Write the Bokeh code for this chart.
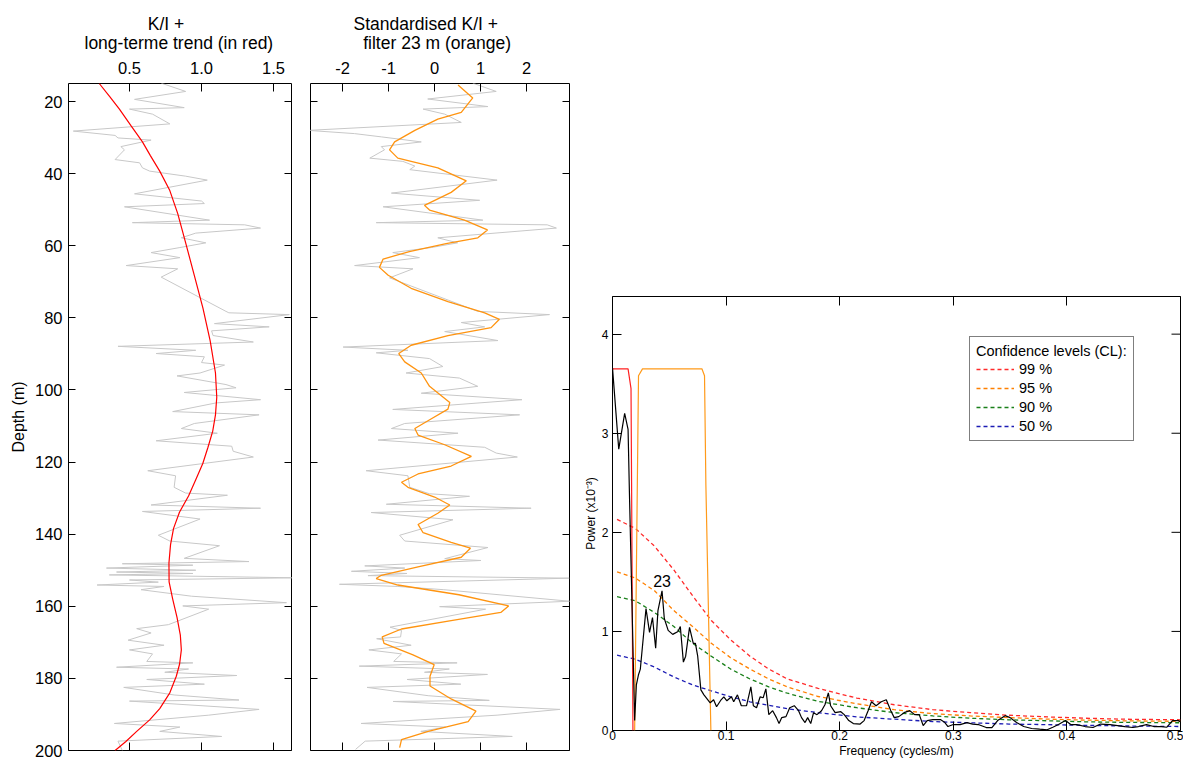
import math
from bokeh.plotting import figure
from bokeh.models import Range1d, LinearAxis, FixedTicker, Title, Label, PrintfTickFormatter
from bokeh.layouts import row
from bokeh.embed import file_html
from bokeh.resources import INLINE

FONT = "Liberation Sans"

# ---------------- Panel 1: K/I (grey) + long-term trend (red) ----------------
ki_depth = [14.9, 17.2, 19.4, 21.7, 22.1, 23.5, 26.2, 28.2, 29.4, 30.1,
            30.7, 32.5, 33.4, 36.1, 37.0, 38.4, 39.3, 40.7, 41.8, 45.6,
            47.6, 48.3, 49.2, 52.9, 53.6, 54.2, 55.1, 56.5, 57.8, 59.2,
            60.5, 61.9, 63.3, 65.5, 66.4, 68.7, 78.2, 78.6, 79.1, 81.6,
            82.5, 83.6, 84.9, 86.7, 87.9, 89.0, 89.9, 90.8, 92.4, 93.1,
            95.3, 96.1, 98.5, 99.4, 100.7, 102.7, 103.6, 106.0, 106.9, 109.3,
            110.7, 112.0, 114.1, 115.6, 117.0, 118.6, 122.4, 123.8, 127.0, 128.6,
            129.2, 131.9, 132.8, 133.7, 135.8, 140.3, 141.9, 143.2, 146.7, 147.6,
            148.2, 148.6, 149.4, 150.0, 150.5, 150.9, 151.3, 152.1, 152.7, 153.3,
            154.1, 154.5, 155.4, 157.2, 159.0, 159.9, 160.8, 165.1, 166.2, 167.4,
            169.4, 170.8, 172.1, 173.2, 175.3, 175.7, 176.9, 177.4, 178.3, 179.2,
            180.3, 181.6, 182.5, 184.6, 186.0, 186.3, 188.6, 190.2, 192.5, 193.5,
            194.7, 196.1, 197.4, 200.0]
ki_value = [0.72, 0.89, 0.535, 0.88, 0.50, 0.66, 0.78, 0.11, 0.40, 0.42,
            0.65, 0.44, 0.465, 0.40, 0.57, 0.59, 0.64, 0.89, 1.04, 0.535,
            1.0, 1.02, 0.465, 1.056, 0.52, 1.30, 1.41, 0.96, 0.86, 1.03,
            0.85, 0.65, 0.85, 0.477, 0.835, 0.72, 1.17, 1.19, 1.61, 1.09,
            1.47, 1.07, 1.08, 1.36, 0.42, 0.96, 0.685, 1.02, 1.00, 1.16,
            0.99, 0.83, 1.17, 1.24, 0.88, 1.41, 1.10, 0.80, 1.40, 0.95,
            0.86, 1.11, 0.685, 1.21, 1.22, 1.36, 0.627, 0.82, 0.81, 0.89,
            1.18, 0.65, 1.41, 0.59, 0.99, 0.70, 0.78, 1.125, 0.88, 1.33,
            0.45, 0.94, 0.34, 0.96, 0.41, 0.94, 0.36, 1.65, 0.50, 0.70,
            0.275, 0.74, 0.58, 0.93, 1.59, 0.87, 1.05, 0.77, 0.55, 0.65,
            0.49, 0.74, 0.50, 0.66, 0.62, 0.94, 0.41, 0.91, 0.745, 1.245,
            0.62, 1.02, 0.46, 0.81, 1.26, 0.50, 1.40, 1.05, 0.395, 0.85,
            0.71, 1.14, 0.42, 0.45]

trend_depth = [15.0, 18.5, 22.1, 26.7, 31.2, 35.0, 39.3, 44.7, 51.1, 59.2,
               68.2, 77.3, 86.3, 95.3, 102.0, 106.9, 111.4, 115.9, 120.4, 124.9,
               129.4, 133.9, 138.4, 142.9, 148.0, 153.2, 158.0, 163.1, 168.0, 172.1,
               176.0, 179.4, 184.0, 188.4, 191.5, 194.7, 197.5, 200.0]
trend_value = [0.29, 0.36, 0.43, 0.51, 0.59, 0.645, 0.71, 0.78, 0.835, 0.89,
               0.95, 1.01, 1.06, 1.097, 1.106, 1.097, 1.078, 1.045, 1.009, 0.96,
               0.91, 0.847, 0.806, 0.785, 0.774, 0.775, 0.80, 0.83, 0.853, 0.86,
               0.848, 0.825, 0.78, 0.71, 0.64, 0.55, 0.475, 0.40]

ki_ticks = [0.5, 1.0, 1.5]
depth_ticks = [20, 40, 60, 80, 100, 120, 140, 160, 180, 200]

# ---------------- Panel 2: standardised K/I (grey) + 23 m filter (orange) ----------------
std_depth = [14.9, 17.2, 19.3, 21.4, 22.1, 23.5, 25.8, 28.0, 28.9, 29.8,
             31.2, 32.5, 33.4, 35.7, 36.6, 37.9, 38.9, 41.8, 45.4, 47.4,
             49.2, 52.9, 53.6, 54.2, 55.1, 57.8, 59.2, 60.5, 61.9, 63.3,
             65.5, 66.4, 68.9, 78.2, 79.1, 81.3, 82.5, 83.8, 86.3, 88.1,
             89.0, 89.7, 91.3, 93.5, 95.3, 96.7, 99.0, 100.9, 102.7, 105.4,
             106.9, 109.3, 110.7, 112.0, 113.9, 115.9, 117.5, 118.6, 122.4, 123.8,
             127.0, 128.8, 129.5, 131.7, 132.8, 134.0, 136.0, 140.3, 141.9, 143.7,
             146.8, 147.3, 148.8, 149.4, 150.3, 150.9, 151.5, 152.2, 153.9, 154.5,
             155.4, 158.6, 160.1, 160.8, 165.8, 166.7, 168.5, 169.0, 170.8, 172.1,
             173.2, 175.3, 175.7, 176.6, 177.4, 178.3, 178.9, 180.3, 181.6, 182.5,
             184.8, 186.1, 186.4, 188.6, 190.2, 192.5, 193.5, 194.7, 196.1, 197.4,
             199.7]
std_value = [0.83, 1.34, -0.15, 1.16, -0.25, 0.22, 0.58, -2.75, -1.74, -1.16,
             -0.29, -1.16, -1.09, -1.41, -0.69, -0.43, -0.54, 1.36, -0.94, 0.98,
             -1.12, 1.05, -1.27, 2.45, 2.65, 0.07, 0.5, -0.07, -0.91, -0.33,
             -1.74, -0.47, -0.98, 0.94, 2.5, 0.58, 1.09, 0.22, 1.38, -1.99,
             -0.58, -1.27, -0.11, 0.18, -0.62, 0.54, 0.94, -0.29, 1.9, -0.91,
             1.85, -0.65, -0.94, 0.51, -1.23, 1.09, 1.34, 1.8, -1.49, -0.58,
             -0.54, -0.11, 0.76, -1.05, 2.1, -1.38, 0.40, -0.76, -0.65, 1.16,
             0.22, 1.01, -1.52, -0.65, -1.81, -0.6, -1.45, 2.93, -2.07, -0.8,
             0.2, 2.94, 0.11, 1.11, -0.97, -0.72, -0.74, -1.26, -0.51, -1.43,
             -0.72, -0.89, 0.49, -1.64, 0.32, -0.22, 1.15, -0.6, 0.57, -1.47,
             -0.14, 1.19, -0.9, 2.73, 1.36, -1.6, 0.24, -0.3, 1.69, -1.51,
             -1.72]

filt_depth = [15.4, 19.0, 23.0, 24.9, 28.0, 31.2, 33.4, 35.7, 38.4, 42.0,
              45.2, 48.8, 50.1, 52.9, 55.6, 57.8, 59.4, 61.6, 63.7, 66.0,
              68.2, 71.8, 75.5, 78.6, 80.4, 82.7, 84.9, 87.6, 89.9, 92.2,
              95.3, 99.0, 103.5, 105.3, 108.0, 110.7, 112.5, 115.2, 118.4, 121.1,
              123.3, 125.6, 127.0, 129.7, 131.9, 134.2, 137.3, 139.6, 142.3, 143.9,
              146.4, 149.1, 151.4, 152.3, 154.1, 156.8, 159.9, 161.7, 164.0, 166.3,
              168.5, 170.3, 173.5, 176.2, 179.4, 182.1, 185.7, 189.1, 192.0, 194.7,
              197.0, 199.2]
filt_value = [0.51, 0.83, 0.58, 0.07, -0.43, -0.87, -0.98, -0.8, 0.07, 0.69,
              0.36, -0.22, -0.11, 0.65, 1.15, 0.94, 0.25, -0.55, -1.12, -1.2,
              -1.01, -0.51, 0.29, 1.09, 1.41, 1.23, 0.29, -0.51, -0.78, -0.65,
              -0.29, -0.11, 0.33, 0.29, -0.07, -0.43, -0.36, 0.22, 0.8, 0.36,
              -0.36, -0.72, -0.58, 0.0, 0.33, 0.07, -0.36, -0.25, 0.36, 0.78,
              0.58, -0.36, -1.16, -1.27, -0.8, 0.53, 1.61, 1.44, 0.36, -0.72,
              -1.14, -1.1, -0.47, -0.01, -0.1, -0.1, 0.36, 0.9, 0.73, -0.14,
              -0.72, -0.76]

std_ticks = [-2, -1, 0, 1, 2]

# ---------------- Panel 3: power spectrum ----------------
freq = [0, 0.0055, 0.0107, 0.0137, 0.0148, 0.0195, 0.021, 0.0228, 0.0245, 0.0295, 0.0326,
        0.0352, 0.038, 0.040, 0.0436, 0.0456, 0.049, 0.053, 0.0577, 0.0597, 0.0624,
        0.0644, 0.0678, 0.0711, 0.073, 0.075, 0.0778, 0.0805, 0.086, 0.089, 0.0916,
        0.0956, 0.098, 0.1007, 0.1047, 0.1067, 0.11, 0.1134, 0.118, 0.1218, 0.124,
        0.1268, 0.13, 0.1326, 0.135, 0.1376, 0.141, 0.1443, 0.1466, 0.149, 0.1527,
        0.156, 0.16, 0.1638, 0.1664, 0.1695, 0.1718, 0.1745, 0.177, 0.18, 0.184,
        0.187, 0.19, 0.192, 0.196, 0.201, 0.204, 0.208, 0.212, 0.218, 0.2215,
        0.225, 0.228, 0.232, 0.2366, 0.241, 0.245, 0.248, 0.252, 0.2567, 0.2617,
        0.266, 0.27, 0.2735, 0.277, 0.282, 0.2886, 0.2926, 0.2953, 0.3, 0.306,
        0.312, 0.317, 0.322, 0.329, 0.334, 0.339, 0.3456, 0.35, 0.3557, 0.362,
        0.369, 0.376, 0.3826, 0.3876, 0.3926, 0.3987, 0.4034, 0.4087, 0.416, 0.423,
        0.4295, 0.438, 0.4446, 0.451, 0.458, 0.463, 0.47, 0.4765, 0.483, 0.488,
        0.493, 0.498, 0.5]
power = [3.66, 2.84, 3.20, 3.04, 2.45, 0.10, 0.46, 0.56, 0.62, 1.23, 0.99,
         1.14, 0.83, 1.21, 1.41, 1.13, 1.01, 0.97, 1.0, 1.05, 0.69,
         0.75, 1.04, 0.88, 0.88, 0.75, 0.41, 0.36, 0.28, 0.31, 0.24,
         0.31, 0.34, 0.30, 0.34, 0.29, 0.36, 0.25, 0.25, 0.44, 0.25,
         0.23, 0.34, 0.33, 0.42, 0.16, 0.2, 0.13, 0.07, 0.13, 0.14,
         0.23, 0.25, 0.2, 0.13, 0.08, 0.13, 0.07, 0.18, 0.16, 0.2,
         0.26, 0.38, 0.25, 0.18, 0.19, 0.16, 0.1, 0.07, 0.065, 0.1,
         0.2, 0.29, 0.25, 0.29, 0.31, 0.2, 0.13, 0.14, 0.18, 0.2,
         0.16, 0.16, 0.05, 0.1, 0.11, 0.11, 0.08, 0.04, 0.06, 0.06,
         0.08, 0.065, 0.06, 0.03, 0.03, 0.1, 0.15, 0.13, 0.08, 0.04,
         0.02, 0.013, 0.007, 0.033, 0.06, 0.1, 0.06, 0.06, 0.04, 0.03,
         0.065, 0.06, 0.05, 0.04, 0.03, 0.04, 0.06, 0.04, 0.04, 0.033,
         0.1, 0.1, 0.09]

lowpass_freq = [0, 0.0137, 0.0163, 0.0168, 0.018]
lowpass_gain = [3.65, 3.65, 3.45, 2.5, 0.0]
bandpass_freq = [0.0195, 0.0229, 0.0264, 0.0787, 0.081, 0.0822, 0.0866]
bandpass_gain = [0.0, 3.58, 3.65, 3.65, 3.58, 2.48, 0.0]

cl_freq = [0.004, 0.02, 0.037, 0.054, 0.0705, 0.087, 0.104, 0.121, 0.1376, 0.154,
           0.181, 0.215, 0.248, 0.282, 0.315, 0.349, 0.383, 0.416, 0.45, 0.5]
cl99 = [2.13, 2.04, 1.86, 1.62, 1.36, 1.11, 0.915, 0.75, 0.62, 0.52,
        0.425, 0.327, 0.26, 0.21, 0.18, 0.154, 0.137, 0.124, 0.114, 0.108]
cl95 = [1.60, 1.54, 1.41, 1.21, 1.05, 0.88, 0.735, 0.62, 0.52, 0.44,
        0.343, 0.27, 0.21, 0.17, 0.147, 0.13, 0.115, 0.105, 0.098, 0.092]
cl90 = [1.35, 1.31, 1.19, 1.05, 0.88, 0.75, 0.62, 0.52, 0.44, 0.376,
        0.294, 0.23, 0.18, 0.147, 0.124, 0.108, 0.098, 0.088, 0.082, 0.078]
cl50 = [0.76, 0.72, 0.64, 0.54, 0.46, 0.40, 0.34, 0.29, 0.255, 0.22,
        0.18, 0.137, 0.114, 0.09, 0.078, 0.065, 0.059, 0.052, 0.046, 0.04]
cl_labels = ["99 %", "95 %", "90 %", "50 %"]
cl_colors = ["#ff2a2a", "#ff8000", "#1a801a", "#1c1cb4"]

freq_ticks = [0, 0.1, 0.2, 0.3, 0.4, 0.5]
power_ticks = [0, 1, 2, 3, 4]
FREQ_MAX = 0.5
POWER_MAX = 4.38
peak_freq = 0.0436
peak_label_power = 1.51
peak_text = "23"

NB = "\u00a0"
title1 = NB * 13 + "K/I +\nlong-terme trend (in red)"
title2 = "Standardised K/I +\n" + NB * 2 + "filter 23 m (orange)"


def base_fig(w, h, xr, yr, left, right, top, bottom, xloc="below"):
    p = figure(width=w, height=h, x_range=xr, y_range=yr, output_backend="svg",
               toolbar_location=None, title=None, x_axis_location=xloc,
               min_border_left=left, min_border_right=right,
               min_border_top=top, min_border_bottom=bottom, frame_align=False)
    p.grid.visible = False
    p.outline_line_color = "black"
    p.outline_line_width = 1
    p.background_fill_color = "white"
    p.border_fill_color = "white"
    return p


def style_axis(ax, ticks, tick_len, font_size=None, standoff=0, fmt=None):
    ax.ticker = FixedTicker(ticks=ticks)
    ax.axis_line_color = None
    ax.major_tick_in = tick_len
    ax.major_tick_out = 0
    ax.minor_tick_line_color = None
    ax.major_tick_line_color = "black"
    ax.major_tick_line_width = 1
    ax.major_label_standoff = standoff
    if fmt is not None:
        ax.formatter = PrintfTickFormatter(format=fmt)
    if font_size:
        ax.major_label_text_font = FONT
        ax.major_label_text_font_size = font_size
        ax.major_label_text_color = "black"
    else:
        # tick marks only: labels empty and tiny so they take no room
        ax.major_label_overrides = {t: "" for t in ticks}
        ax.major_label_text_font_size = "1px"
        ax.major_label_text_color = None


def add_title(p, text, offset):
    p.add_layout(Title(text=text, align="left", offset=offset, standoff=12,
                       text_font=FONT, text_font_size="17.5px", text_line_height=0.95,
                       text_font_style="normal", text_color="black"), "above")


H = 760

# ---- Panel 1
p1 = base_fig(300, H, Range1d(0.0764, 1.625), Range1d(200, 15), 68, 9, 83, 10, xloc="above")
style_axis(p1.xaxis[0], ki_ticks, 8, "16.5px", 10, "%.1f")
style_axis(p1.yaxis[0], depth_ticks, 7, "16.5px", 6, "%d")
p1.yaxis[0].axis_label = "Depth (m)"
p1.yaxis[0].axis_label_text_font = FONT
p1.yaxis[0].axis_label_text_font_size = "16px"
p1.yaxis[0].axis_label_text_font_style = "normal"
p1.yaxis[0].axis_label_text_color = "black"
p1.yaxis[0].axis_label_standoff = 5
ax = LinearAxis(); style_axis(ax, ki_ticks, 8); p1.add_layout(ax, "below")
ax = LinearAxis(); style_axis(ax, depth_ticks, 7); p1.add_layout(ax, "right")
p1.line(ki_value, ki_depth, line_color="#c8c8c8", line_width=1)
p1.line(trend_value, trend_depth, line_color="#ff0000", line_width=1.2)
add_title(p1, title1, 16)

# ---- Panel 2
p2 = base_fig(280, H, Range1d(-2.70, 2.935), Range1d(200, 15), 10, 11, 83, 10, xloc="above")
style_axis(p2.xaxis[0], std_ticks, 8, "16.5px", 10, "%d")
style_axis(p2.yaxis[0], depth_ticks, 7)
ax = LinearAxis(); style_axis(ax, std_ticks, 8); p2.add_layout(ax, "below")
ax = LinearAxis(); style_axis(ax, depth_ticks, 7); p2.add_layout(ax, "right")
p2.line(std_value, std_depth, line_color="#c8c8c8", line_width=1)
p2.line(filt_value, filt_depth, line_color="#ff9410", line_width=1.3)
add_title(p2, title2, 43)

# ---- Panel 3
p3 = base_fig(603, H, Range1d(0, FREQ_MAX), Range1d(0, POWER_MAX), 25, 3, 296, 28)
style_axis(p3.xaxis[0], freq_ticks, 9, "12px", 0)
p3.xaxis[0].major_label_overrides = {0: "0"}
style_axis(p3.yaxis[0], power_ticks, 9, "12px", 4, "%d")
for a, lab in ((p3.xaxis[0], "Frequency (cycles/m)"), (p3.yaxis[0], "Power (x10\u207b\u00b3)")):
    a.axis_label = lab
    a.axis_label_text_font = FONT
    a.axis_label_text_font_size = "12px"
    a.axis_label_text_font_style = "normal"
    a.axis_label_text_color = "black"
    a.axis_label_standoff = 1
ax = LinearAxis(); style_axis(ax, freq_ticks, 9); p3.add_layout(ax, "above")
# inward tick marks on the right edge
p3.ray(x=[FREQ_MAX] * len(power_ticks), y=power_ticks, length=9, length_units="screen",
       angle=math.pi, line_color="black", line_width=1)

for vals, lab, col in zip((cl99, cl95, cl90, cl50), cl_labels, cl_colors):
    p3.line(cl_freq, vals, line_color=col, line_width=1.3, line_dash="4 3", legend_label=lab)
p3.line(lowpass_freq, lowpass_gain, line_color="#ff2020", line_width=1.2)
p3.line(bandpass_freq, bandpass_gain, line_color="#ff9a1a", line_width=1.2)
p3.line(freq, power, line_color="black", line_width=1.2)
p3.add_layout(Label(x=peak_freq, y=peak_label_power, text=peak_text, text_align="center",
                    text_baseline="middle", text_font=FONT, text_font_size="16px",
                    text_color="black"))

lg = p3.legend[0]
lg.location = (357, 289)
lg.title = "Confidence levels (CL):"
lg.title_text_font = FONT
lg.title_text_font_size = "14.5px"
lg.title_text_font_style = "normal"
lg.title_text_color = "black"
lg.title_standoff = 2
lg.label_text_font = FONT
lg.label_text_font_size = "14.5px"
lg.label_text_color = "black"
lg.glyph_width = 38
lg.glyph_height = 16
lg.label_height = 16
lg.label_standoff = 5
lg.spacing = 3
lg.padding = 6
lg.margin = 0
lg.border_line_color = "black"
lg.border_line_width = 1
lg.background_fill_color = "white"
lg.background_fill_alpha = 1

layout = row(p1, p2, p3)
open("out.html", "w").write(file_html(layout, INLINE))
